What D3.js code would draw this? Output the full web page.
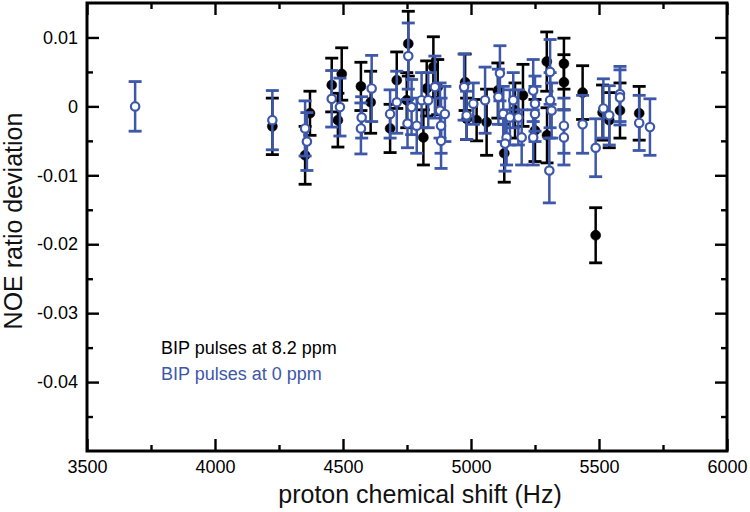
<!DOCTYPE html>
<html><head><meta charset="utf-8">
<script src="https://cdn.jsdelivr.net/npm/d3@7"></script>
<style>body{margin:0;background:#fff}svg{display:block}text{font-family:"Liberation Sans",Arial,sans-serif}</style>
</head><body>
<svg id="c" width="750" height="512"></svg>
<script>
// Series: BIP pulses at 8.2 ppm (black, filled)
const blackX = [4224,4371,4352,4456,4495,4480,4570,4608,4710,4684,4755,4749,4853,4827,4814,4870,4977,4983,5061,5022,5105,5130,5172,5203,5250,5296,5297,5363,5363,5436,5487,5514,5540,5582,5657];
const blackY = [-0.0029,-0.0010,-0.0071,0.0031,0.0047,-0.0020,0.0029,0.0006,0.0038,-0.0032,0.0091,0.0009,0.0057,0.0026,-0.0045,0.0028,0.0035,-0.0018,-0.0023,-0.0020,0.0023,-0.0068,-0.0006,0.0016,-0.0035,0.0065,-0.0042,0.0062,0.0035,0.0020,-0.0187,-0.0009,-0.0020,-0.0006,-0.0010];
const blackErr = [0.0041,0.0032,0.0042,0.0039,0.0038,0.0039,0.0035,0.0045,0.0041,0.0035,0.0047,0.0040,0.0044,0.0040,0.0040,0.0040,0.0041,0.0030,0.0048,0.0030,0.0040,0.0042,0.0040,0.0045,0.0045,0.0043,0.0040,0.0037,0.0040,0.0039,0.0040,0.0040,0.0040,0.0040,0.0039];
// Series: BIP pulses at 0 ppm (blue, open)
const blueX = [3688,4224,4352,4359,4456,4488,4612,4570,4573,4684,4710,4755,4768,4752,4788,4807,4833,4859,4879,4883,4883,4898,4973,4983,5009,5055,5113,5107,5126,5139,5133,5165,5152,5185,5198,5243,5250,5250,5243,5309,5309,5315,5306,5363,5363,5436,5487,5517,5540,5582,5582,5657,5699];
const blueY = [0.0000,-0.0020,-0.0032,-0.0051,0.0011,-0.0001,0.0026,-0.0032,-0.0016,-0.0011,0.0006,0.0073,-0.0001,-0.0025,-0.0028,0.0009,0.0009,0.0028,-0.0006,-0.0028,-0.0050,-0.0011,0.0028,-0.0013,0.0004,0.0009,0.0048,0.0014,-0.0011,-0.0045,-0.0054,0.0009,-0.0016,-0.0016,-0.0045,0.0023,0.0004,-0.0011,-0.0045,0.0050,0.0009,-0.0006,-0.0093,-0.0028,-0.0045,-0.0026,-0.0060,-0.0003,-0.0013,0.0018,0.0013,-0.0024,-0.0030];
const blueErr = [0.0036,0.0043,0.0040,0.0042,0.0041,0.0042,0.0048,0.0037,0.0030,0.0035,0.0045,0.0048,0.0040,0.0035,0.0040,0.0040,0.0040,0.0045,0.0040,0.0040,0.0040,0.0040,0.0048,0.0035,0.0030,0.0048,0.0040,0.0040,0.0040,0.0040,0.0040,0.0040,0.0040,0.0040,0.0040,0.0045,0.0040,0.0040,0.0040,0.0047,0.0040,0.0040,0.0047,0.0040,0.0040,0.0042,0.0042,0.0043,0.0043,0.0040,0.0040,0.0040,0.0041];
const xMajor = [3500,4000,4500,5000,5500,6000];
const xMinor = [3750,4250,4750,5250,5750];
const yMajor = [0.01,0,-0.01,-0.02,-0.03,-0.04];
const yMinor = [0.005,-0.005,-0.015,-0.025,-0.035,-0.045];
const yLabels = ["0.01","0","-0.01","-0.02","-0.03","-0.04"];
const legendLabels = ["BIP pulses at 8.2 ppm","BIP pulses at 0 ppm"];

const BLUE = "#3d57a9";
const svg = d3.select("#c");
const L=87,R=727,T=3,B=451;
const x = d3.scaleLinear().domain([3500,6000]).range([L,R]);
const y = d3.scaleLinear().domain([-0.05,0.015]).range([B,T]);

function series(xs, ys, es, color, open){
  const g = svg.append("g");
  const data = xs.map((v,i)=>({x:v,y:ys[i],e:es[i]}));
  const bars = g.selectAll("g.eb").data(data).enter().append("g")
    .attr("stroke",color).attr("stroke-width",2.5).attr("fill","none");
  bars.append("line").attr("x1",d=>x(d.x)).attr("x2",d=>x(d.x)).attr("y1",d=>y(d.y+d.e)).attr("y2",d=>y(d.y-d.e));
  bars.append("line").attr("x1",d=>x(d.x)-6.5).attr("x2",d=>x(d.x)+6.5).attr("y1",d=>y(d.y+d.e)).attr("y2",d=>y(d.y+d.e)).attr("stroke-width",2.8);
  bars.append("line").attr("x1",d=>x(d.x)-6.5).attr("x2",d=>x(d.x)+6.5).attr("y1",d=>y(d.y-d.e)).attr("y2",d=>y(d.y-d.e)).attr("stroke-width",2.8);
  g.selectAll("circle").data(data).enter().append("circle")
    .attr("cx",d=>x(d.x)).attr("cy",d=>y(d.y))
    .attr("r", open?4.2:5)
    .attr("fill", open?"#fff":color)
    .attr("stroke", color).attr("stroke-width", open?2.2:0.5);
}
series(blackX, blackY, blackErr, "#000", false);
series(blueX, blueY, blueErr, BLUE, true);

// axes (ticks inward)
function styleAx(g){ g.select(".domain").remove(); g.selectAll("line").attr("stroke","#000").attr("stroke-width",2.4);
  g.selectAll("text").attr("font-size",18).attr("fill","#000").style("font-family","'Liberation Sans',Arial,sans-serif"); }
svg.append("g").attr("transform",`translate(0,${B})`)
  .call(d3.axisBottom(x).tickValues(xMajor).tickFormat(d3.format("d")).tickSizeInner(-12).tickSizeOuter(0).tickPadding(9)).call(styleAx);
svg.append("g").attr("transform",`translate(0,${B})`)
  .call(d3.axisBottom(x).tickValues(xMinor).tickFormat("").tickSizeInner(-6).tickSizeOuter(0)).call(styleAx);
svg.append("g").attr("transform",`translate(0,${T})`)
  .call(d3.axisTop(x).tickValues(xMajor).tickFormat("").tickSizeInner(-12).tickSizeOuter(0)).call(styleAx);
svg.append("g").attr("transform",`translate(0,${T})`)
  .call(d3.axisTop(x).tickValues(xMinor).tickFormat("").tickSizeInner(-6).tickSizeOuter(0)).call(styleAx);
svg.append("g").attr("transform",`translate(${L},0)`)
  .call(d3.axisLeft(y).tickValues(yMajor).tickFormat((d,i)=>yLabels[i]).tickSizeInner(-12).tickSizeOuter(0).tickPadding(9)).call(styleAx);
svg.append("g").attr("transform",`translate(${L},0)`)
  .call(d3.axisLeft(y).tickValues(yMinor).tickFormat("").tickSizeInner(-6).tickSizeOuter(0)).call(styleAx);
svg.append("g").attr("transform",`translate(${R},0)`)
  .call(d3.axisRight(y).tickValues(yMajor).tickFormat("").tickSizeInner(-12).tickSizeOuter(0)).call(styleAx);
svg.append("g").attr("transform",`translate(${R},0)`)
  .call(d3.axisRight(y).tickValues(yMinor).tickFormat("").tickSizeInner(-6).tickSizeOuter(0)).call(styleAx);

svg.append("rect").attr("x",L).attr("y",T).attr("width",R-L).attr("height",B-T)
  .attr("fill","none").attr("stroke","#000").attr("stroke-width",3);

// titles
svg.append("text").attr("x",420).attr("y",503).attr("text-anchor","middle").attr("font-size",25).attr("fill","#111").text("proton chemical shift (Hz)");
svg.append("text").attr("transform","translate(22,221) rotate(-90)").attr("text-anchor","middle").attr("font-size",25).attr("fill","#111").text("NOE ratio deviation");

// legend
svg.append("text").attr("x",161).attr("y",354).attr("font-size",18).attr("fill","#000").text(legendLabels[0]);
svg.append("text").attr("x",161).attr("y",380).attr("font-size",18).attr("fill",BLUE).text(legendLabels[1]);
</script>
</body></html>
